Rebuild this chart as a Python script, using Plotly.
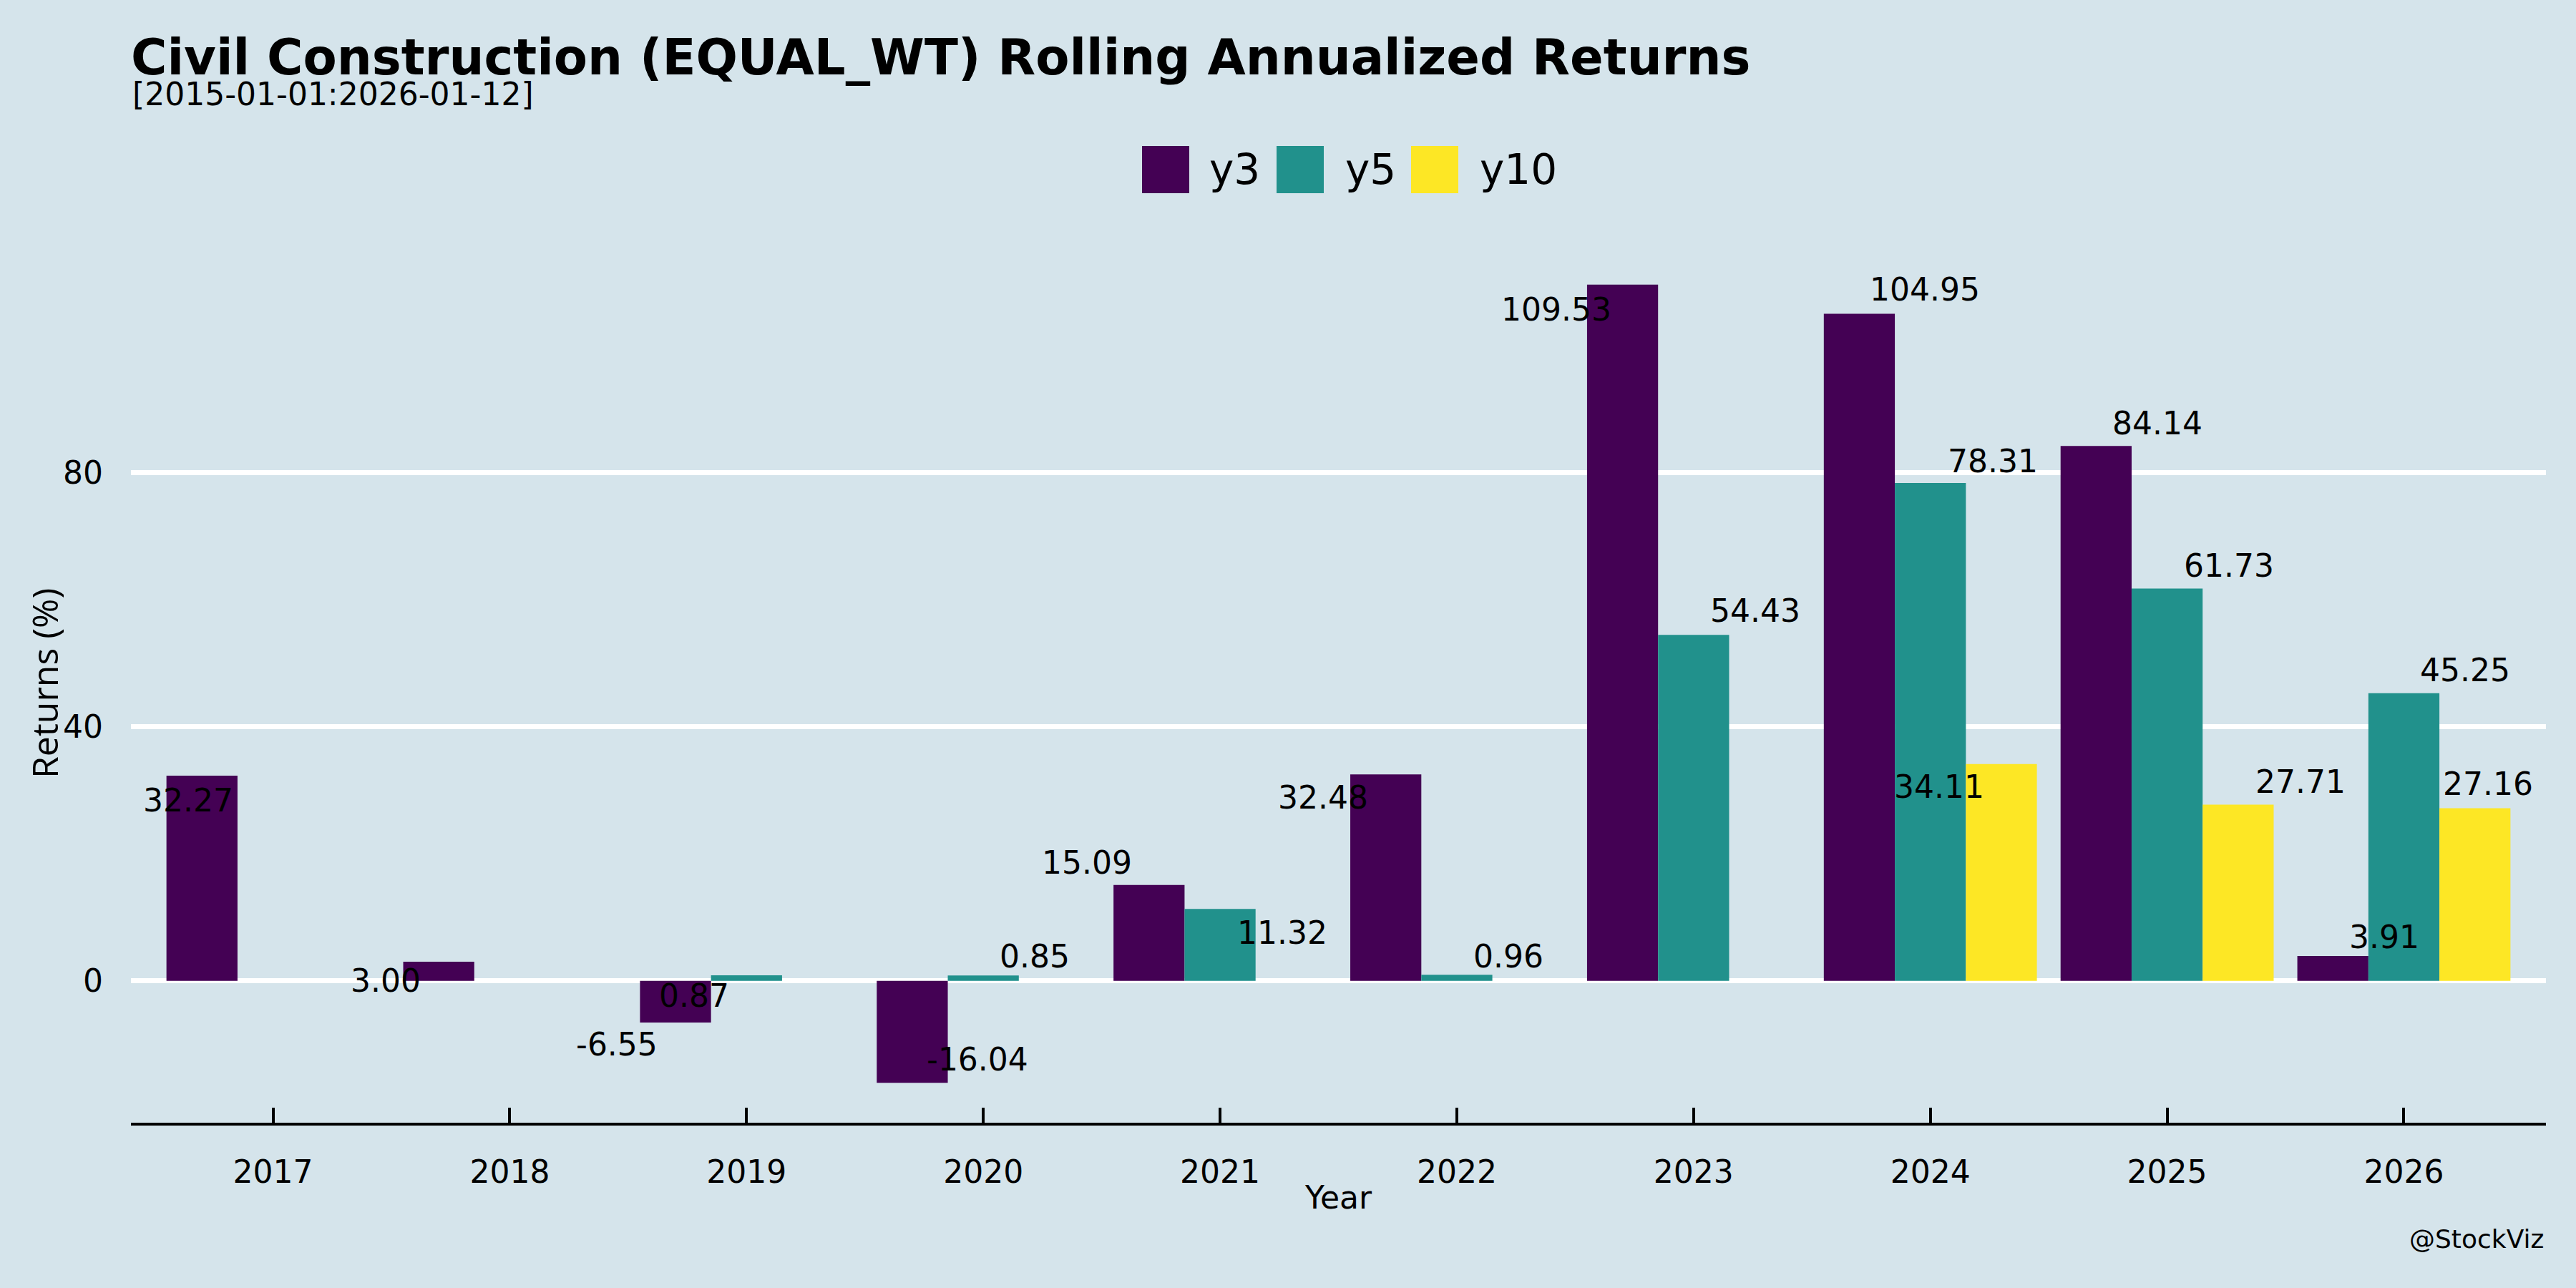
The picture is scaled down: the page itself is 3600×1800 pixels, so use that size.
import plotly.graph_objects as go

# ---------------- data ----------------
years = ["2017", "2018", "2019", "2020", "2021", "2022", "2023", "2024", "2025", "2026"]
y3 = [32.27, 3.00, -6.55, -16.04, 15.09, 32.48, 109.53, 104.95, 84.14, 3.91]
y5 = [None, None, 0.87, 0.85, 11.32, 0.96, 54.43, 78.31, 61.73, 45.25]
y10 = [None, None, None, None, None, None, None, 34.11, 27.71, 27.16]
series_names = ["y3", "y5", "y10"]
y_ticks = [0, 40, 80]

# ---------------- styling / layout ----------------
colors = ["#440154", "#21918c", "#fde725"]
BG = "#d5e4eb"
W, H = 3600, 1800
ML, MR, MT, MB = 183, 42, 342, 231
PW, PH = W - ML - MR, H - MT - MB
BARGAP = 0.1
FONT = "DejaVu Sans"

# pixel offsets (dx right, dy down) of each value label from its bar end
label_offsets = {
    "y3": [(-19, 34), (-74, 26), (-82, 31), (91, -33), (-87, -31), (-88, 32),
           (-93, 35), (92, -34), (86, -32), (72, -27)],
    "y5": [None, None, (-73, 28), (72, -27), (87, 33), (72, -26),
           (86, -34), (87, -31), (86, -32), (86, -32)],
    "y10": [None, None, None, None, None, None, None, (-87, 32), (87, -32), (18, -34)],
}


def pxx(px):
    return (px - ML) / PW


def pxy(py):
    return (H - MB - py) / PH


all_series = [y3, y5, y10]
fig = go.Figure()
for name, vals, col in zip(series_names, all_series, colors):
    fig.add_trace(go.Bar(x=years, y=vals, name=name, marker=dict(color=col, line=dict(width=0)),
                         showlegend=False))

annotations = []
n = len(series_names)
w = (1 - BARGAP) / n
for i, (name, vals) in enumerate(zip(series_names, all_series)):
    off = (i - (n - 1) / 2) * w
    for j, v in enumerate(vals):
        if v is None:
            continue
        dx, dy = label_offsets[name][j]
        annotations.append(dict(
            x=j + off, y=v, xref="x", yref="y", text=f"{v:.2f}", showarrow=False,
            xanchor="center", yanchor="middle", xshift=dx, yshift=-dy,
            font=dict(family=FONT, size=44, color="black")))

# subtitle
annotations.append(dict(x=0, y=pxy(131), xref="paper", yref="paper", xanchor="left", yanchor="middle",
                        text="[2015-01-01:2026-01-12]", showarrow=False,
                        font=dict(family=FONT, size=44, color="black")))
# axis titles
annotations.append(dict(x=0.5, y=pxy(1673), xref="paper", yref="paper", xanchor="center", yanchor="middle",
                        text="Year", showarrow=False, font=dict(family=FONT, size=44, color="black")))
annotations.append(dict(x=pxx(62), y=pxy(955), xref="paper", yref="paper", xanchor="center", yanchor="middle",
                        text="Returns (%)", textangle=-90, showarrow=False,
                        font=dict(family="Open Sans", size=50, color="black")))
# watermark
annotations.append(dict(x=pxx(3557), y=pxy(1731), xref="paper", yref="paper", xanchor="right", yanchor="middle",
                        text="@StockViz", showarrow=False, font=dict(family=FONT, size=36, color="black")))

# manual legend
shapes = []
leg_sq_left = [1596, 1784, 1972]
leg_txt_left = [1688, 1878, 2066]
for k, name in enumerate(series_names):
    shapes.append(dict(type="rect", xref="paper", yref="paper",
                       x0=pxx(leg_sq_left[k]), x1=pxx(leg_sq_left[k] + 66),
                       y0=pxy(270), y1=pxy(204), fillcolor=colors[k], line=dict(width=0)))
    annotations.append(dict(x=pxx(leg_txt_left[k]), y=pxy(237), xref="paper", yref="paper",
                            xanchor="left", yanchor="middle", text=name, showarrow=False,
                            font=dict(family=FONT, size=58, color="black")))

fig.update_layout(
    width=W, height=H,
    margin=dict(l=ML, r=MR, t=MT, b=MB, autoexpand=False),
    paper_bgcolor=BG, plot_bgcolor=BG,
    barmode="group", bargap=BARGAP, bargroupgap=0,
    showlegend=False,
    font=dict(family=FONT, size=44, color="black"),
    title=dict(text="Civil Construction (EQUAL_WT) Rolling Annualized Returns",
               x=0, xref="paper", xanchor="left", y=1 - 80 / H, yref="container", yanchor="middle",
               font=dict(family=FONT, size=68.8, weight="bold", color="black")),
    annotations=annotations,
    shapes=shapes,
)
fig.update_xaxes(type="category", categoryorder="array", categoryarray=years, range=[-0.6, 9.6],
                 showgrid=False, showline=True, linecolor="black", linewidth=4,
                 ticks="inside", ticklen=21, tickwidth=4, tickcolor="black",
                 tickfont=dict(family=FONT, size=44, color="black"), ticklabelstandoff=27)
fig.update_yaxes(range=[-22.32, 115.81], tickvals=y_ticks, showgrid=True, gridcolor="white", gridwidth=7,
                 zeroline=False, showline=False, ticks="",
                 tickfont=dict(family=FONT, size=44, color="black"), ticklabelstandoff=38)

fig.write_html("out.html", config={"displayModeBar": False},
               post_script="document.body.style.margin='0';document.body.style.padding='0';"
                           "document.body.style.background='" + BG + "';")
